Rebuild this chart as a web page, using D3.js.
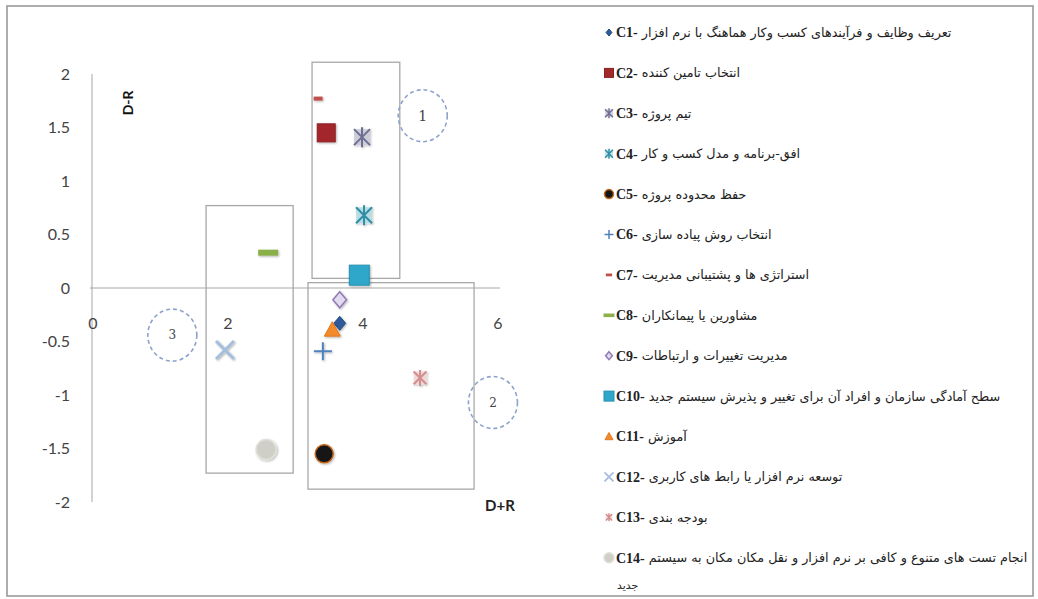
<!DOCTYPE html>
<html><head><meta charset="utf-8">
<script src="https://cdn.jsdelivr.net/npm/d3@7/dist/d3.min.js"></script>
<style>body{margin:0;background:#fff}svg{display:block}</style>
</head><body>
<svg id="c" width="1038" height="599"></svg>
<script>
// ---- data ----
const categories = ["C1","C2","C3","C4","C5","C6","C7","C8","C9","C10","C11","C12","C13","C14"];
const names = [
 "تعریف وظایف و فرآیندهای کسب وکار هماهنگ با نرم افزار",
 "انتخاب تامین کننده",
 "تیم پروژه",
 "افق-برنامه و مدل کسب و کار",
 "حفظ محدوده پروژه",
 "انتخاب روش پیاده سازی",
 "استراتژی ها و پشتیبانی مدیریت",
 "مشاورین یا پیمانکاران",
 "مدیریت تغییرات و ارتباطات",
 "سطح آمادگی سازمان و افراد آن برای تغییر و پذیرش سیستم جدید",
 "آموزش",
 "توسعه نرم افزار یا رابط های کاربری",
 "بودجه بندی",
 "انجام تست های متنوع و کافی بر نرم افزار و نقل مکان مکان به سیستم"
];
const nameSecondLine = ["","","","","","","","","","","","","","جدید"];
const dPlusR  = [3.67, 3.47, 4.00, 4.03, 3.44, 3.42, 3.35, 2.61, 3.67, 3.96, 3.56, 1.97, 4.86, 2.58];
const dMinusR = [-0.33, 1.45, 1.41, 0.68, -1.55, -0.59, 1.77, 0.33, -0.11, 0.12, -0.39, -0.58, -0.84, -1.51];
const xTicks = [0, 2, 4, 6];
const yTicks = [-2, -1.5, -1, -0.5, 0, 0.5, 1, 1.5, 2];
// annotation boxes (data coords) and circled group labels
const boxX0 = [3.26, 1.69, 3.20];
const boxX1 = [4.56, 2.98, 5.66];
const boxY0 = [2.11, 0.77, 0.05];
const boxY1 = [0.09, -1.73, -1.88];
const groupLabels = ["1", "2", "3"];
const groupX = [4.90, 5.94, 1.19];
const groupY = [1.61, -1.07, -0.44];

// ---- styles ----
const markerType = ["diamond","square","star","star","circle","plus","dash","dash","diamondO","square","triangle","x","star","circle"];
const markerFill = ["#2D5A9B","#A2282C","#C9C9D8","#B2DCE4","#151515","none","#C0504D","#8CB04A","#E2DAEF","#2FA7CB","#F38A2C","none","#F2D6D6","#CFCFC8"];
const markerStroke = ["#244A82","#8A1F22","#6E6E92","#2F8EA5","#C0651A","#4F81BD","#C0504D","#8CB04A","#8E7CB5","#2690B0","#E07820","#A6BEDD","#D48E8E","#E0E0D8"];
const markerSize = [7, 9, 10, 10, 9, 9, 0, 0, 8, 10, 8, 9, 8, 10];
const dashW = [0,0,0,0,0,0,9,20,0,0,0,0,0,0];
const dashH = [0,0,0,0,0,0,4,6,0,0,0,0,0,0];

const svg = d3.select("#c");
const defs = svg.append("defs");
const f = defs.append("filter").attr("id","sh").attr("x","-50%").attr("y","-50%").attr("width","200%").attr("height","200%");
f.append("feDropShadow").attr("dx",1).attr("dy",1).attr("stdDeviation",1).attr("flood-color","#000").attr("flood-opacity",0.3);

// outer frame
svg.append("rect").attr("x",7).attr("y",6).attr("width",1026).attr("height",590)
  .attr("fill","none").attr("stroke","#9a9a9a").attr("stroke-width",1.6);

const x = d3.scaleLinear().domain([0,6]).range([92,497]);
const y = d3.scaleLinear().domain([-2,2]).range([502,74]);

// axes lines
svg.append("line").attr("x1",x(0)).attr("x2",x(0)).attr("y1",y(2)).attr("y2",y(-2)).attr("stroke","#a6a6a6");
svg.append("line").attr("x1",x(0)-2).attr("x2",x(6)+3).attr("y1",y(0)).attr("y2",y(0)).attr("stroke","#a6a6a6");

// tick labels
svg.append("g").selectAll("text").data(yTicks).join("text")
  .attr("x",70).attr("y",d=>y(d)).attr("dy","0.35em").attr("text-anchor","end")
  .attr("font-family","Lato, 'Open Sans', sans-serif").attr("font-size",16).attr("fill","#444")
  .text(d=>String(d));
svg.append("g").selectAll("text").data(xTicks).join("text")
  .attr("x",d=>x(d)+1).attr("y",y(-0.33)).attr("dy","0.35em").attr("text-anchor","middle")
  .attr("font-family","Lato, 'Open Sans', sans-serif").attr("font-size",16).attr("fill","#444")
  .text(d=>String(d));

// axis titles
svg.append("text").attr("transform",`translate(133,${y(1.73)}) rotate(-90)`).attr("text-anchor","middle")
  .attr("font-family","Lato, 'Open Sans', sans-serif").attr("font-weight","bold").attr("font-size",14).attr("fill","#111").text("D-R");
svg.append("text").attr("x",x(6)+3).attr("y",y(-2)+9).attr("text-anchor","middle")
  .attr("font-family","Lato, 'Open Sans', sans-serif").attr("font-weight","bold").attr("font-size",15).attr("fill","#222").text("D+R");

// boxes
svg.append("g").selectAll("rect").data(boxX0).join("rect")
  .attr("x",(d,i)=>x(boxX0[i])).attr("y",(d,i)=>y(boxY0[i]))
  .attr("width",(d,i)=>x(boxX1[i])-x(boxX0[i])).attr("height",(d,i)=>y(boxY1[i])-y(boxY0[i]))
  .attr("fill","none").attr("stroke","#a8a8a8").attr("stroke-width",1.3);

// dashed circles
const gc = svg.append("g").selectAll("g").data(groupLabels).join("g")
  .attr("transform",(d,i)=>`translate(${x(groupX[i])},${y(groupY[i])})`);
gc.append("ellipse").attr("rx",24.5).attr("ry",26).attr("fill","none").attr("stroke","#8DA2CC")
  .attr("stroke-width",1.6).attr("stroke-dasharray","4,3");
gc.append("text").attr("text-anchor","middle").attr("dy","0.35em")
  .attr("font-family","'DejaVu Serif', serif").attr("font-size",(d,i)=>i===0?14:12).attr("fill","#444").text(d=>d);

// marker drawing
function drawMarker(g, i, scale) {
  const s = markerSize[i]*scale, t = markerType[i];
  const fill = markerFill[i], st = markerStroke[i];
  if (t==="diamond" || t==="diamondO") {
    g.append("path").attr("d",`M0,${-s}L${s*0.85},0L0,${s}L${-s*0.85},0Z`).attr("fill",fill).attr("stroke",st).attr("stroke-width",t==="diamondO"?1.5:1);
  } else if (t==="square") {
    g.append("rect").attr("x",-s).attr("y",-s).attr("width",2*s).attr("height",2*s).attr("fill",fill).attr("stroke",st).attr("stroke-width",1);
  } else if (t==="circle") {
    g.append("circle").attr("r",s).attr("fill",fill).attr("stroke",st).attr("stroke-width",1.5);
  } else if (t==="triangle") {
    g.append("path").attr("d",`M0,${-s}L${s},${s*0.8}L${-s},${s*0.8}Z`).attr("fill",fill).attr("stroke",st).attr("stroke-width",1);
  } else if (t==="plus") {
    g.append("path").attr("d",`M${-s},0L${s},0M0,${-s}L0,${s}`).attr("stroke",st).attr("stroke-width",2*Math.max(scale,0.75)).attr("fill","none");
  } else if (t==="x") {
    g.append("path").attr("d",`M${-s},${-s}L${s},${s}M${-s},${s}L${s},${-s}`).attr("stroke",st).attr("stroke-width",3*Math.max(scale,0.6)).attr("fill","none");
  } else if (t==="star") {
    const k = s*0.8;
    g.append("rect").attr("x",-k).attr("y",-k).attr("width",2*k).attr("height",2*k).attr("fill",fill).attr("opacity",0.8);
    g.append("path").attr("d",`M${-k},${-k}L${k},${k}M${-k},${k}L${k},${-k}M0,${-s}L0,${s}`)
      .attr("stroke",st).attr("stroke-width",2*Math.max(scale,0.7)).attr("fill","none");
  } else if (t==="dash") {
    const w = dashW[i]*scale, h = dashH[i]*Math.max(scale,0.6);
    g.append("rect").attr("x",-w/2).attr("y",-h/2).attr("width",w).attr("height",h).attr("fill",fill);
  }
}

// points
const pts = svg.append("g").attr("filter","url(#sh)");
categories.forEach((c,i)=>{
  const g = pts.append("g").attr("transform",`translate(${x(dPlusR[i])},${y(dMinusR[i])})`);
  drawMarker(g, i, 1);
});

// legend
const leg = svg.append("g");
const rowY = i => 32.5 + i*40.4;
const probe = leg.append("text").attr("font-family","'DejaVu Sans', sans-serif").attr("font-size",12).text(names[0]);
const w0 = probe.node().getComputedTextLength();
probe.remove();
const pfs = Math.max(9, Math.min(14, 12*310/w0));
categories.forEach((c,i)=>{
  const g = leg.append("g").attr("transform",`translate(0,${rowY(i)})`);
  const m = g.append("g").attr("transform","translate(609,0)");
  drawMarker(m, i, i===6?0.7:(i===7?0.55:0.5));
  const lab = g.append("text").attr("x",616).attr("dy","0.35em")
    .attr("font-family","'Liberation Serif', serif").attr("font-weight","bold").attr("font-size",14).attr("fill","#222")
    .text(c+"-");
  const lw = lab.node().getComputedTextLength();
  g.append("text").attr("x",616+lw+4).attr("dy","0.35em")
    .attr("font-family","'DejaVu Sans', sans-serif").attr("font-size",pfs).attr("fill","#222")
    .text(names[i]);
  if (nameSecondLine[i]) {
    g.append("text").attr("x",617).attr("y",28).attr("dy","0.35em")
      .attr("font-family","'DejaVu Sans', sans-serif").attr("font-size",pfs*0.85).attr("fill","#222")
      .text(nameSecondLine[i]);
  }
});
</script>
</body></html>
